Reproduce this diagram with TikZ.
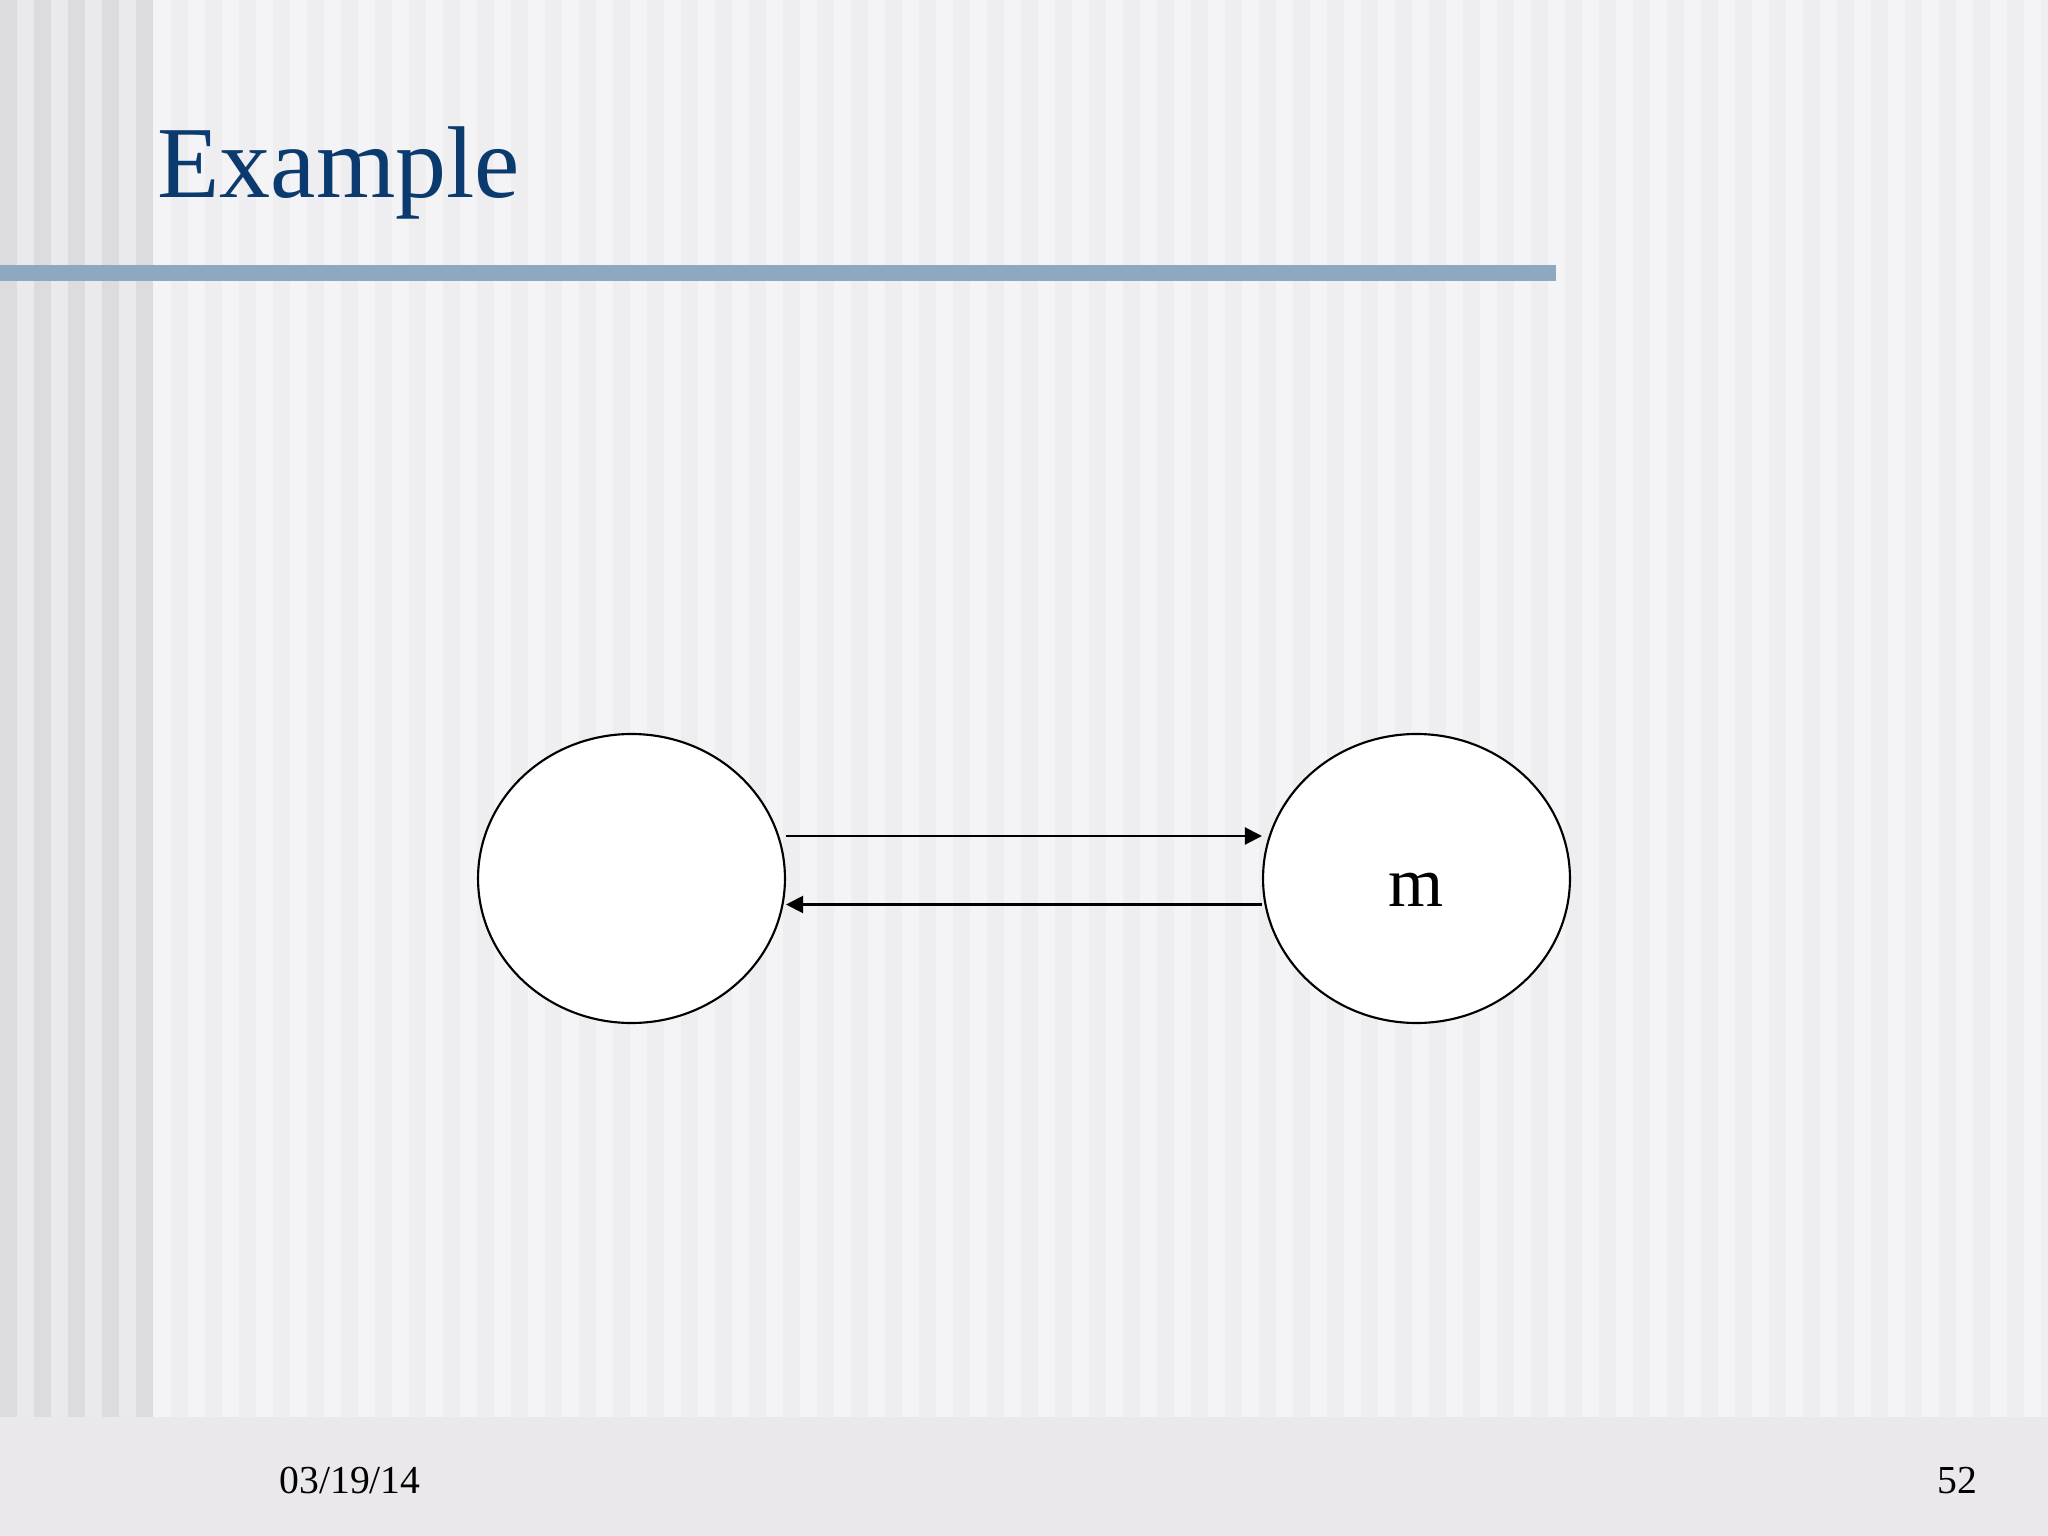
\documentclass[tikz,border=0pt]{standalone}
\usepackage{fontspec}
\setmainfont{Liberation Serif}
\usetikzlibrary{shapes.geometric,arrows.meta}
\definecolor{bgA}{HTML}{F4F3F6}
\definecolor{bgB}{HTML}{EEEDF0}
\definecolor{sideA}{HTML}{EAEAEC}
\definecolor{sideB}{HTML}{DCDCDF}
\definecolor{footbg}{HTML}{EAE8EB}
\definecolor{barblue}{HTML}{8FA8C2}
\definecolor{titleblue}{HTML}{0B3A6E}
\tikzset{
  state/.style={draw=black, line width=0.75bp, fill=white, ellipse, inner sep=0pt,
    minimum width=107.9bp, minimum height=101.6bp, font=\fontsize{25}{28}\selectfont},
  arr/.style={draw=black, line width=0.75bp, -{Triangle[length=6bp,width=6bp]}},
  foot/.style={font=\fontsize{14}{16}\selectfont, inner sep=0pt, anchor=base west}
}
\begin{document}
\begin{tikzpicture}[x=0.3515625bp, y=-0.3515625bp]
\useasboundingbox (0,0) rectangle (2048,1536);
% background
\fill[bgA] (0,0) rectangle (2048,1536);
\foreach \i in {0,...,55} {
  \fill[bgB] ({171+34*\i},0) rectangle ({188+34*\i},1417);
}
\fill[sideA] (0,0) rectangle (153,1417);
\foreach \i in {0,...,4} {
  \fill[sideB] ({34*\i},0) rectangle ({17+34*\i},1417);
}
\fill[footbg] (0,1417) rectangle (2048,1536);
% title bar
\fill[barblue] (0,265) rectangle (1556,281);
\node[anchor=base west, inner sep=0pt, text=titleblue, font=\fontsize{36}{40}\selectfont] (title) at (157,198) {Example};
% diagram
\node[state] (L) at (631.5,878.5) {};
\node[state] (R) at (1416.5,878.5) {\raisebox{-10bp}[0pt][0pt]{m}};
\draw[arr] ([yshift=14.94bp]L.east) -- ([yshift=14.94bp]R.west);
\draw[arr] ([yshift=-9.14bp]R.west) -- ([yshift=-9.14bp]L.east);
% footer
\node[foot] (date) at (279,1493) {03/19/14};
\node[foot, anchor=base east] (page) at (1978,1493) {52};
\end{tikzpicture}
\end{document}
